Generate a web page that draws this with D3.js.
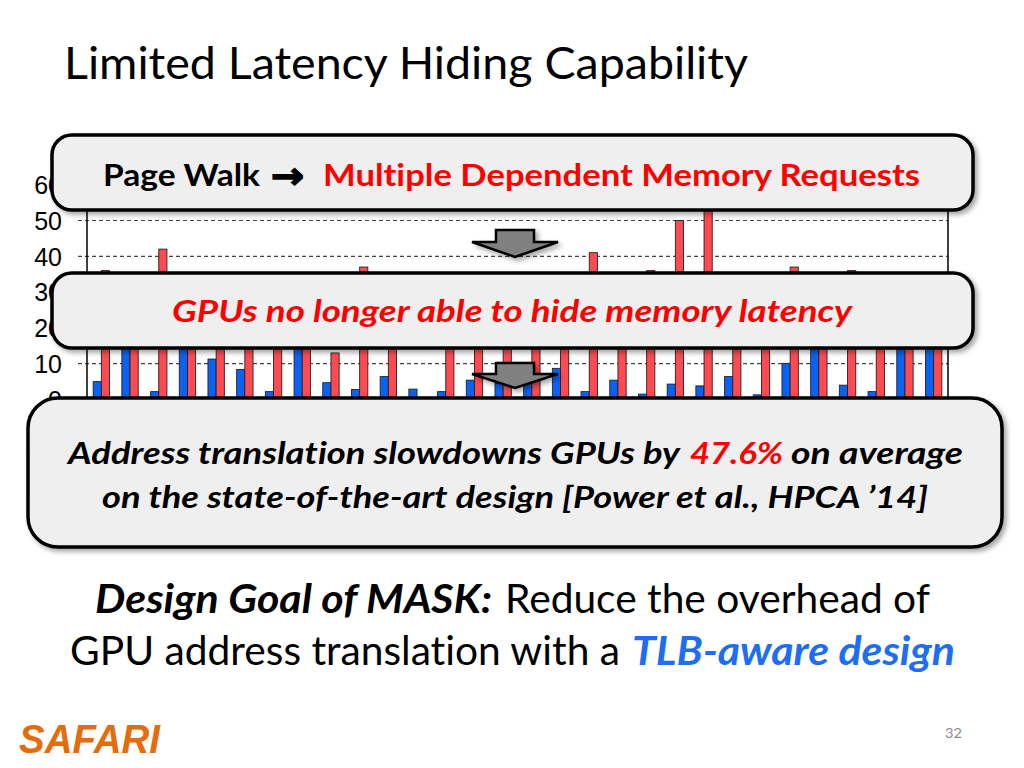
<!DOCTYPE html>
<html>
<head>
<meta charset="utf-8">
<script src="https://cdn.jsdelivr.net/npm/d3@7"></script>
<style>
html,body{margin:0;padding:0;background:#fff;}
svg{display:block;}
text{font-variant-ligatures:none;font-feature-settings:"liga" 0,"clig" 0;}
</style>
</head>
<body>
<script>
// ---- data ----
const categories = ["1","2","3","4","5","6","7","8","9","10","11","12","13","14","15",
                    "16","17","18","19","20","21","22","23","24","25","26","27","28","29","30"];
const blueValues = [5.0, 24, 2.2, 22, 11.3, 8.4, 2.2, 20, 4.7, 2.8, 6.4, 2.9, 2.2, 5.4, 4.5,
                    5.0, 8.7, 2.2, 5.4, 1.5, 4.3, 3.8, 6.4, 1.3, 10.1, 18, 4.0, 2.2, 20, 22];
const redValues  = [36, 28, 42, 30, 25, 28, 30, 28, 13, 37, 30, 0, 32, 30, 30,
                    28, 28, 41, 30, 36, 50, 56, 28, 30, 37, 30, 36, 30, 32, 30];
const yTicks = [0, 10, 20, 30, 40, 50, 60];
const seriesKeys = ["blue", "red"];

const W = 1024, H = 768;
const svg = d3.select("body").append("svg").attr("width", W).attr("height", H);

const defs = svg.append("defs");
const f = defs.append("filter").attr("id", "shadow").attr("x", "-5%").attr("y", "-20%").attr("width", "112%").attr("height", "150%");
f.append("feDropShadow").attr("dx", 3).attr("dy", 3).attr("stdDeviation", 2.5)
  .attr("flood-color", "#000").attr("flood-opacity", 0.35);

// ---- title ----
svg.append("text").attr("x", 64).attr("y", 79)
  .attr("font-family", "Lato, 'Open Sans', sans-serif").attr("font-size", 45)
  .attr("textLength", 684).attr("lengthAdjust", "spacingAndGlyphs")
  .attr("fill", "#000").text("Limited Latency Hiding Capability");
svg.append("line").attr("x1", 52).attr("x2", 972).attr("y1", 109).attr("y2", 109)
  .attr("stroke", "#000").attr("stroke-width", 4).attr("filter", "url(#shadow)");

// ---- chart ----
const plotL = 87, plotR = 948;
const x = d3.scaleBand().domain(categories).range([plotL, plotR]).paddingInner(0.43).paddingOuter(0.215);
const xs = d3.scaleBand().domain(seriesKeys).range([0, x.bandwidth()]);
const y = d3.scaleLinear().domain([0, 60]).range([399.5, 184.7]);

const chart = svg.append("g");
// gridlines
chart.append("g").selectAll("line").data(yTicks.filter(d => d > 0)).join("line")
  .attr("x1", plotL - 9).attr("x2", plotR).attr("y1", d => y(d)).attr("y2", d => y(d))
  .attr("stroke", "#444").attr("stroke-width", 1.2).attr("stroke-dasharray", "4,3");
// frame
chart.append("rect").attr("x", plotL).attr("y", y(60)).attr("width", plotR - plotL).attr("height", y(0) - y(60))
  .attr("fill", "none").attr("stroke", "#000").attr("stroke-width", 1.5);

// y axis
const yAxis = d3.axisLeft(y).tickValues(yTicks).tickSize(0).tickPadding(25);
const ga = chart.append("g").attr("transform", `translate(${plotL},0)`).call(yAxis);
ga.select(".domain").remove();
ga.selectAll("text").attr("font-family", "'Liberation Sans', Arial, sans-serif").attr("font-size", 25)
  .attr("fill", "#000").attr("dy", "0.35em");

// bars
const rows = categories.map((c, i) => ({cat: c, blue: blueValues[i], red: redValues[i]}));
const colors = {blue: "#0a62f5", red: "#ff4a52"};
const g = chart.append("g").selectAll("g").data(rows).join("g")
  .attr("transform", d => `translate(${x(d.cat)},0)`);
g.selectAll("rect").data(d => seriesKeys.map(k => ({k, v: d[k]}))).join("rect")
  .attr("x", d => xs(d.k)).attr("width", xs.bandwidth())
  .attr("y", d => y(d.v)).attr("height", d => y(0) - y(d.v))
  .attr("fill", d => colors[d.k]).attr("stroke", "#222").attr("stroke-width", 0.9)
  .attr("display", d => d.v > 0 ? null : "none");

// ---- boxes ----
function box(x0, y0, w, h, r) {
  svg.append("rect").attr("x", x0).attr("y", y0).attr("width", w).attr("height", h)
    .attr("rx", r).attr("ry", r).attr("fill", "#efefef").attr("stroke", "#000").attr("stroke-width", 3.5)
    .attr("filter", "url(#shadow)");
}
function arrow(cx, top, headY, tipY) {
  const p = d3.path();
  p.moveTo(cx - 19, top); p.lineTo(cx + 19, top); p.lineTo(cx + 19, headY);
  p.lineTo(cx + 43, headY); p.lineTo(cx, tipY); p.lineTo(cx - 43, headY);
  p.lineTo(cx - 19, headY); p.closePath();
  svg.append("path").attr("d", p.toString()).attr("fill", "#808080").attr("stroke", "#000")
    .attr("stroke-width", 2.5).attr("stroke-linejoin", "miter").attr("filter", "url(#shadow)");
}
function txt(str, x0, yb, len, opts) {
  return svg.append("text").attr("x", x0).attr("y", yb)
    .attr("font-family", opts.family || "Lato, 'Open Sans', sans-serif")
    .attr("font-size", opts.size || 30)
    .attr("font-weight", opts.weight || "normal")
    .attr("font-style", opts.style || "normal")
    .attr("fill", opts.fill || "#000")
    .attr("textLength", len).attr("lengthAdjust", "spacingAndGlyphs")
    .text(str);
}

box(52, 135, 921, 75, 20);
txt("Page Walk", 103, 186, 157, {weight: "bold"});
txt("\u2192", 271, 188, 33, {weight: "bold", family: "'DejaVu Sans', sans-serif", size: 36})
  .attr("stroke", "#000").attr("stroke-width", 1.6);
txt("Multiple Dependent Memory Requests", 323, 186, 597, {weight: "bold", fill: "#ff0000"});

arrow(515, 230, 242, 257);

box(52, 273, 921, 75, 20);
txt("GPUs no longer able to hide memory latency", 172, 322, 680, {weight: "bold", style: "italic", fill: "#ff0000"});

arrow(515, 363, 374, 388);

box(28, 398, 974, 149, 30);
txt("Address translation slowdowns GPUs by", 68, 464, 612, {weight: "bold", style: "italic"});
txt("47.6%", 690, 464, 93, {weight: "bold", style: "italic", fill: "#ff0000"});
txt("on average", 791, 464, 172, {weight: "bold", style: "italic"});
txt("on the state-of-the-art design [Power et al., HPCA \u201914]", 102, 508, 826, {weight: "bold", style: "italic"});

// ---- bottom text ----
txt("Design Goal of MASK:", 95, 613, 397, {weight: "bold", style: "italic", size: 40});
txt("Reduce the overhead of", 505, 613, 425, {size: 40});
txt("GPU address translation with a", 70, 665, 550, {size: 40});
txt("TLB-aware design", 632, 665, 323, {weight: "bold", style: "italic", size: 40, fill: "#1e6ef5"});

txt("SAFARI", 19, 753, 141, {weight: "bold", style: "italic", size: 40, fill: "#e46c0a",
  family: "'Liberation Sans Narrow', 'Liberation Sans', Arial, sans-serif"});
txt("32", 945, 738, 17, {size: 14, fill: "#8a8a8a"});
</script>
</body>
</html>
